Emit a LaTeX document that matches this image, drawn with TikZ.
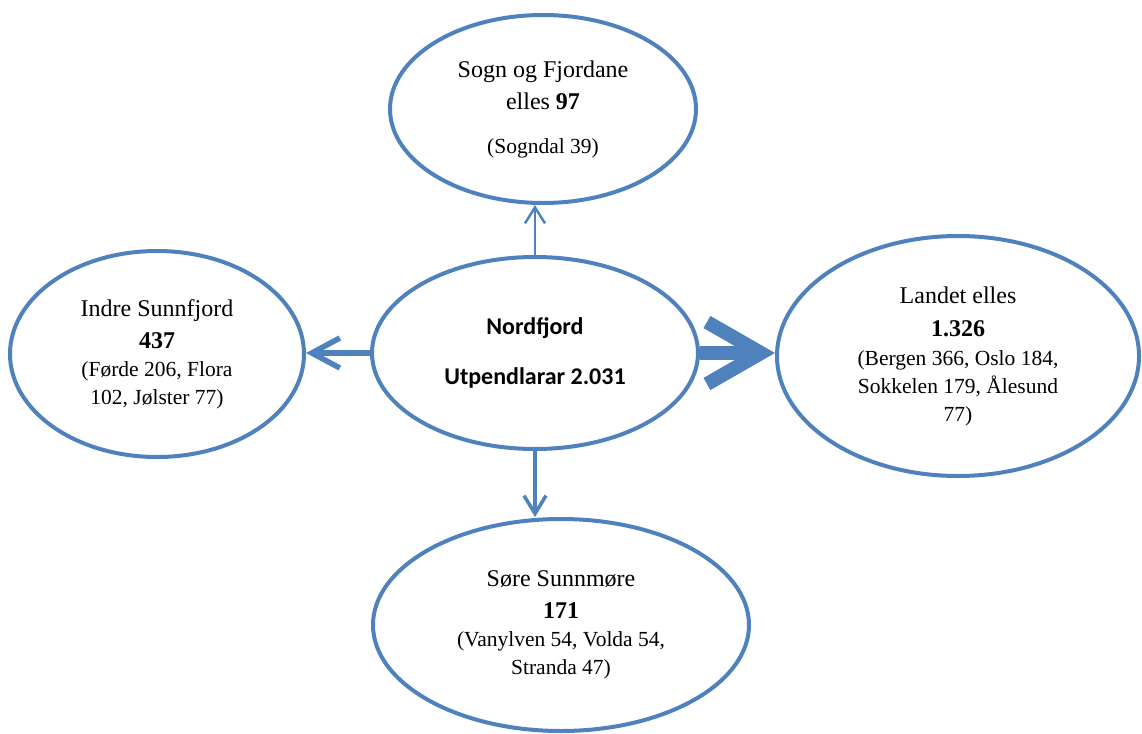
\documentclass[tikz,border=0pt]{standalone}
\usepackage{fontspec}
\setmainfont{Liberation Serif}
\newfontfamily\calibri{Carlito}
\usetikzlibrary{shapes.geometric,arrows.meta}
\definecolor{flowblue}{RGB}{79,129,189}
\newcommand{\detail}[1]{{\fontsize{21.5}{28}\selectfont #1}}

\begin{document}
\begin{tikzpicture}[x=1pt,y=-1pt,
    region/.style={ellipse, draw=flowblue, line width=4pt, inner sep=0pt,
      align=center, font=\fontsize{24}{28}\selectfont},
    flow/.style={draw=flowblue, line cap=butt}]
  \useasboundingbox (0,0) rectangle (1142,733);

  % Commuting regions
  \node[region, minimum width=326, minimum height=192,
    font=\calibri\bfseries\fontsize{24}{28}\selectfont] (nord) at (535,353)
    {Nordfjord\\[22pt] Utpendlarar 2.031};
  \node[region, minimum width=306, minimum height=188] (sogn) at (543,109)
    {Sogn og Fjordane\\[4pt] elles \textbf{97}\\[16pt]
     \detail{(Sogndal 39)}};
  \node[region, minimum width=294, minimum height=206] (indre) at (157,354)
    {Indre Sunnfjord\\[4pt] \textbf{437}\\
     \detail{(Førde 206, Flora}\\ \detail{102, Jølster 77)}};
  \node[region, minimum width=362, minimum height=240] (landet) at (958,356)
    {Landet elles\\[5pt] \textbf{1.326}\\[1pt]
     \detail{(Bergen 366, Oslo 184,}\\ \detail{Sokkelen 179, Ålesund}\\
     \detail{77)}};
  \node[region, minimum width=376, minimum height=212] (sore) at (561,625)
    {Søre Sunnmøre\\[4pt] \textbf{171}\\
     \detail{(Vanylven 54, Volda 54,}\\ \detail{Stranda 47)}};

  % Flows, width after size
  \draw[flow, line width=2.5pt, -{Straight Barb[length=16pt, width=20pt]}]
    (nord.north) -- (nord.north |- sogn.south);
  \draw[flow, line width=3.5pt, -{Straight Barb[length=18pt, width=22pt]}]
    (nord.south) -- (nord.south |- sore.north);
  \draw[flow, line width=5.5pt, -{Straight Barb[length=28pt, width=30pt]}]
    (nord.west) -- (nord.west -| indre.east);
  \draw[flow, line width=14pt, -{Straight Barb[length=54pt, width=62pt]}]
    (nord.east) -- (nord.east -| landet.west);
\end{tikzpicture}
\end{document}
